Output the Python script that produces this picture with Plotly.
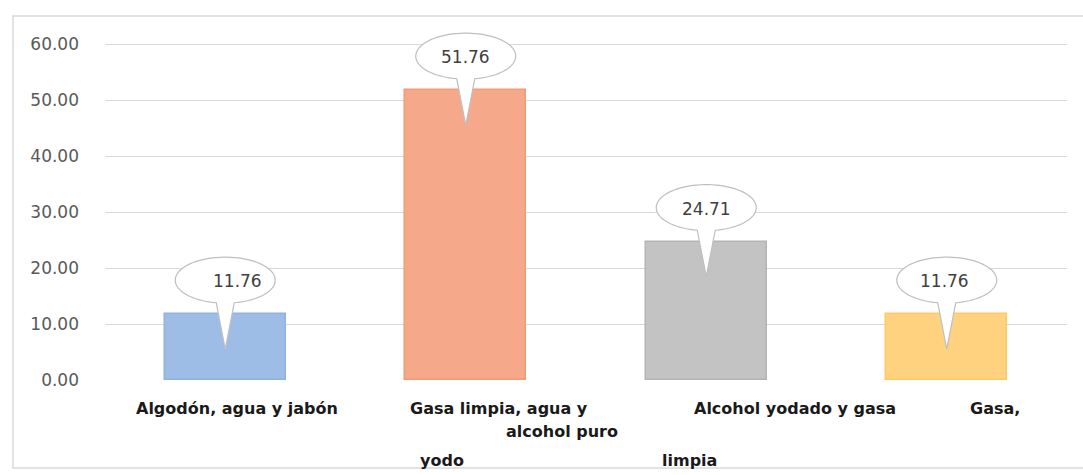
import numpy as np
import plotly.graph_objects as go

# Datos del gráfico
categorias = ["Algodón, agua y jabón", "Gasa limpia, agua y yodo",
              "Alcohol yodado y gasa limpia", "Gasa, alcohol puro"]
valores = [11.76, 51.76, 24.71, 11.76]
colores = ["#9dbde7", "#f5a98a", "#c3c3c3", "#fed27f"]
bordes = ["#8fb2e0", "#f19a76", "#b4b4b4", "#fcc963"]
ticks_y = [0, 10, 20, 30, 40, 50, 60]

# Etiquetas de categoría tal como quedan repartidas bajo el eje
etiquetas = [
    ("Algodón, agua y jabón", 0.05, 408),
    ("Gasa limpia, agua y", 1.14, 408),
    ("alcohol puro", 1.40, 432),
    ("yodo", 0.90, 460),
    ("Alcohol yodado y gasa", 2.37, 408),
    ("limpia", 1.93, 460),
    ("Gasa,", 3.20, 408),
]

W, H = 1083, 475
ML, MR, MT, MB = 105, 16, 10, 95
Y_TOP = 60 + (380 - MT - 336) / 5.6         # espacio libre sobre la línea de 60
x_pos = np.arange(len(categorias))
px_x = (W - ML - MR) / len(categorias)      # píxeles por unidad en x
px_y = (H - MT - MB) / Y_TOP                # píxeles por unidad en y

fig = go.Figure()
fig.add_trace(go.Bar(
    x=x_pos, y=valores, width=0.505,
    marker=dict(color=colores, line=dict(color=bordes, width=1.5)),
    hoverinfo="skip", showlegend=False,
))


def burbuja(cx, valor):
    """Contorno de una llamada elíptica con punta hacia la barra."""
    rx = 50 / px_x
    ry = 23 / px_y
    cy = valor + 34 / px_y
    tip = valor - 35 / px_y
    a = np.arcsin(9 / 50)
    t = np.linspace(-np.pi / 2 + a, 3 * np.pi / 2 - a, 80)
    xs = cx + rx * np.cos(t)
    ys = cy + ry * np.sin(t)
    pts = [f"{x:.5f},{y:.5f}" for x, y in zip(xs, ys)]
    path = "M " + " L ".join(pts) + f" L {cx:.5f},{tip:.5f} Z"
    return path, cy


desplaz_texto = [12, 0, 0, -2]
for i, v in enumerate(valores):
    path, cy = burbuja(x_pos[i], v)
    fig.add_shape(type="path", path=path, xref="x", yref="y",
                  fillcolor="white", line=dict(color="#bfbfbf", width=1.2),
                  layer="above")
    fig.add_annotation(x=x_pos[i], y=cy, xref="x", yref="y", text=f"{v:.2f}",
                       showarrow=False, xshift=desplaz_texto[i], yshift=-1,
                       font=dict(family="DejaVu Sans", size=17, color="#404040"))

alto = H - MT - MB
for texto, xi, ypx in etiquetas:
    fig.add_annotation(x=xi, y=(H - MB - ypx) / alto, xref="x", yref="paper",
                       text=f"<b>{texto}</b>", showarrow=False, yanchor="middle",
                       font=dict(family="DejaVu Sans", size=16, color="#1a1a1a"))

# Marco exterior del gráfico
fig.add_shape(type="rect", xref="paper", yref="paper",
              x0=(13 - ML) / (W - ML - MR), x1=(1095 - ML) / (W - ML - MR),
              y0=(H - MB - 468) / alto, y1=(H - MB - 16) / alto,
              line=dict(color="#d9d9d9", width=1.5), fillcolor="rgba(0,0,0,0)",
              layer="below")

fig.update_layout(
    width=W, height=H,
    margin=dict(l=ML, r=MR, t=MT, b=MB),
    paper_bgcolor="white", plot_bgcolor="white",
    xaxis=dict(range=[-0.5, 3.5], showticklabels=False, showgrid=False,
               zeroline=False, showline=False, ticks=""),
    yaxis=dict(range=[0, Y_TOP], tickvals=ticks_y,
               ticktext=[f"{t:.2f}" for t in ticks_y],
               showgrid=True, gridcolor="#d9d9d9", gridwidth=1,
               zeroline=False, showline=False, ticks="", ticklabelstandoff=25,
               tickfont=dict(family="DejaVu Sans", size=17, color="#595959")),
    bargap=0,
)

fig.write_html("out.html")
